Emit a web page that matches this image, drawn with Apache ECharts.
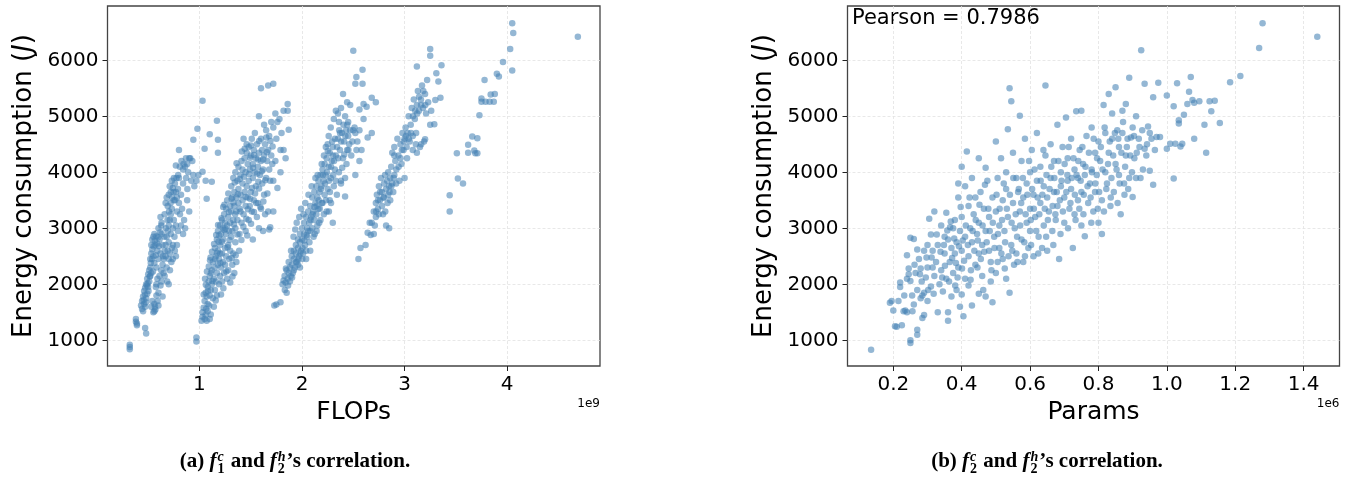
<!DOCTYPE html>
<html>
<head>
<meta charset="utf-8">
<script src="https://cdn.jsdelivr.net/npm/echarts@6/dist/echarts.min.js"></script>
<style>
  html, body { margin: 0; padding: 0; background: #fff; }
  #chart { width: 1351px; height: 478px; }
</style>
</head>
<body>
<div id="chart"></div>
<script>
// left panel: [FLOPs (x1e9), energy (J)], grouped by the visible bands
const flopsBandA = [
  [0.32,840],[0.32,880],[0.32,920],[0.38,1380],[0.38,1330],[0.39,1270],[0.39,1300],[0.47,1220],[0.48,1120],
  [0.43,1620],[0.44,1700],[0.44,1560],[0.45,1520],[0.45,1780],[0.46,1650],[0.46,1880],[0.47,1940],[0.47,1600],
  [0.48,2000],[0.48,1750],[0.49,2100],[0.49,1830],[0.50,2180],[0.50,1950],[0.51,2250],[0.51,2050],[0.52,2300],
  [0.52,2150],[0.53,2200],[0.53,1600],[0.54,1700],[0.55,1500],[0.56,1520],[0.56,1650],[0.57,1550],[0.58,1800],
  [0.58,2000],[0.59,2100],[0.60,1850],[0.60,1620],[0.62,1980],[0.63,2050],[0.64,1780],[0.65,2200],
  [0.52,2450],[0.53,2550],[0.53,2700],[0.54,2620],[0.54,2800],[0.55,2850],[0.55,2500],[0.56,2900],[0.56,2380],
  [0.57,2700],[0.58,2860],[0.58,2300],[0.59,2600],[0.60,3000],[0.60,2450],[0.61,2800],[0.62,3200],[0.62,2550],
  [0.63,3100],[0.63,2900],[0.64,2700],
  [0.64,2350],[0.65,2450],[0.66,2600],[0.66,2150],[0.67,2700],[0.67,2500],[0.68,2850],[0.68,2300],[0.69,2950],
  [0.69,2600],[0.70,3050],[0.70,2750],[0.70,2000],[0.71,3150],[0.71,2550],[0.72,3250],[0.72,2900],[0.73,3350],
  [0.73,2650],[0.74,3000],[0.74,2450],[0.75,3500],[0.75,3150],[0.76,2600],[0.77,2500],[0.78,2700],[0.78,3300],
  [0.79,2950],
  [0.66,3250],[0.67,3450],[0.68,3550],[0.69,3400],[0.70,3600],[0.71,3750],[0.72,3650],[0.73,3850],[0.74,3720],
  [0.75,3900],[0.76,3800],[0.77,3650],[0.78,3550],[0.79,3700],[0.80,3450],[0.80,3900],[0.81,3250],[0.82,3600],
  [0.82,3050],[0.83,3350],[0.84,2900],[0.84,3800],[0.85,3150],[0.86,4100],[0.86,3000],[0.87,3900],[0.88,4150],
  [0.88,3500],[0.89,4000],[0.90,4250],[0.90,3300],[0.91,4250],[0.92,3850],[0.93,4200],[0.94,3950],[0.95,3750],
  [0.80,4400],[0.77,4120],[0.84,4050],
  [0.455,1720],[0.468,1820],[0.478,1680],[0.487,1980],[0.495,2020],[0.503,1880],[0.515,2140],[0.525,2380],
  [0.537,2450],[0.546,2230],[0.553,2680],[0.565,2780],[0.574,2520],[0.586,2730],[0.597,2840],[0.606,2680],
  [0.617,2930],[0.627,3050],[0.658,2850],[0.672,3000],[0.688,3150],[0.703,3300],[0.718,3450],[0.733,3550],
  [0.748,3650],[0.762,3500],[0.776,3900],[0.792,3950],[0.808,4100],[0.824,4200],[0.845,4150],[0.868,4250],
  [0.882,3700],[0.700,2450],[0.685,2050],[0.712,2250],[0.726,2400],[0.741,2700],[0.756,2850],[0.770,3050],
  [0.566,1600],[0.574,1950],[0.592,1700],[0.610,2150],[0.627,2250],[0.645,2500],
  [0.94,4580],[0.98,4780],[1.03,5280],[1.05,4420],[1.03,4010],[1.06,3850],[1.07,3530],[1.10,4680],[1.12,3830],
  [1.17,4920],[1.18,4580],[1.18,4350],[0.97,3850],[0.99,3950]
];
const flopsBandB = [
  [0.97,980],[0.97,1050],[1.02,1350],[1.03,1420],[1.03,1500],[1.04,1580],[1.05,1380],[1.06,1450],[1.07,1350],
  [1.08,1520],[1.10,1380],[1.11,1460],
  [1.05,1700],[1.06,1850],[1.07,1780],[1.08,1950],[1.08,1650],[1.09,2050],[1.10,1800],[1.10,2150],[1.11,1900],
  [1.12,2000],[1.12,2250],[1.13,1750],[1.13,2400],[1.14,2100],[1.14,1600],[1.15,2300],[1.15,1900],[1.16,2500],
  [1.16,2050],[1.17,2200],[1.17,1800],[1.18,2600],[1.18,2350],[1.19,2000],[1.19,2450],[1.20,2150],[1.20,2700],
  [1.21,2300],[1.21,1820],[1.22,2550],[1.22,2050],[1.23,2400],[1.23,2800],[1.24,2200],[1.25,2650],[1.25,2350],
  [1.26,2500],[1.26,2900],[1.27,2100],[1.28,2700],[1.28,2250],[1.29,2450],[1.30,2600],[1.30,2030],[1.31,2850],
  [1.32,2350],[1.33,2550],[1.34,2200],[1.35,2750],[1.36,2400],
  [1.15,2650],[1.17,2800],[1.18,2950],[1.20,3050],[1.21,2900],[1.22,3150],[1.23,3000],[1.24,3250],[1.25,3100],
  [1.26,3350],[1.27,3050],[1.27,3500],[1.28,3200],[1.29,2950],[1.30,3400],[1.30,3100],[1.31,3300],[1.32,3550],
  [1.32,2950],[1.33,3150],[1.34,3400],[1.34,3650],[1.35,3000],[1.36,3300],[1.36,3550],[1.37,3150],[1.38,3450],
  [1.38,3700],[1.39,2900],[1.40,3300],[1.40,3600],[1.41,3100],[1.42,3500],[1.42,3800],[1.43,3250],[1.44,3650],
  [1.45,3400],[1.45,2950],[1.46,3750],[1.47,3550],[1.48,3150],[1.48,3850],[1.49,3400],[1.50,3650],[1.51,3300],
  [1.52,3900],[1.52,2800],[1.53,3500],[1.55,3750],[1.56,3200],[1.57,3450],[1.58,3000],[1.60,3350],[1.62,2950],
  [1.63,3600],[1.64,3250],[1.67,3300],[1.68,2980],
  [1.31,3750],[1.33,3900],[1.35,4000],[1.37,3850],[1.38,4100],[1.40,3950],[1.41,4200],[1.42,4050],[1.44,4250],
  [1.45,4000],[1.46,4350],[1.47,4150],[1.48,4450],[1.49,4050],[1.50,4300],[1.51,4600],[1.52,4150],[1.53,4400],
  [1.54,4000],[1.55,4250],[1.56,4500],[1.57,4100],[1.58,4350],[1.59,3950],[1.60,4200],[1.61,4400],[1.62,4050],
  [1.63,4300],[1.64,4500],[1.65,3900],[1.66,4200],[1.67,4400],[1.68,4050],[1.69,3850],[1.70,4300],[1.71,4150],
  [1.72,3850],[1.74,4200],[1.46,4500],[1.43,4600],[1.54,4700],[1.60,4600],
  [1.073,2230],[1.094,1620],[1.108,2480],[1.127,2060],[1.142,2720],[1.158,1710],[1.171,2560],[1.193,2870],
  [1.204,2380],[1.219,2760],[1.233,1930],[1.241,2970],[1.262,2230],[1.274,2660],[1.293,2790],[1.314,2470],
  [1.322,2140],[1.336,3070],[1.353,2520],[1.371,2890],[1.387,2600],[1.409,2790],[1.428,3030],[1.457,3170],
  [1.466,2870],[1.494,3530],[1.503,3080],[1.531,3290],[1.542,3620],[1.563,3980],[1.581,3710],[1.594,3380],
  [1.612,3800],[1.623,3480],[1.641,3860],[1.662,3620],[1.433,3920],[1.392,3350],[1.374,3610],[1.348,3250],
  [1.331,3460],[1.287,3290],[1.281,3620],[1.252,2990],[1.243,3420],[1.214,3180],[1.186,2760],[1.181,3060],
  [1.163,2880],[1.122,2580],[1.103,2430],[1.091,2320],[1.062,1990],[1.054,2100],[1.041,1820],[1.452,3560],
  [1.473,3340],[1.514,3720],[1.553,3450],[1.574,3830],[1.522,4080],[1.494,4260],[1.441,4420],[1.413,4370],
  [1.362,4160],[1.344,3820],[1.583,4560],[1.622,4230],[1.657,4360],[1.692,4560],[1.713,4460],[1.652,4620],
  [1.502,4480],[1.533,4310],[1.571,4230],[1.607,4020],[1.484,3970],[1.393,3880],[1.312,3530],[1.231,3380],
  [1.202,2550],[1.153,2450],[1.112,2200],[1.083,1880],[1.064,1560],
  [1.58,5000],[1.60,5500],[1.63,4850],[1.65,4750],[1.67,5550],[1.68,4650],[1.70,4900],[1.72,5580],[1.72,4800],
  [1.74,5050],[1.75,4600],[1.76,4900],[1.78,4950],[1.79,4400],[1.80,4700],[1.82,5100],[1.82,4400],[1.84,4250],
  [1.86,5220],[1.86,5100],[1.87,4760],[1.76,3720],[1.72,3300],[1.79,4000],[1.73,1620],[1.75,1640],[1.79,1680],
  [1.69,3020]
];
const flopsBandC = [
  [1.81,2000],[1.82,2070],[1.83,2150],[1.84,2030],[1.85,1850],[1.85,2250],[1.86,2100],[1.87,2400],[1.87,2200],
  [1.88,2300],[1.89,2150],[1.90,2500],[1.90,2350],[1.91,2200],[1.92,2600],[1.92,2450],[1.93,2300],[1.94,2700],
  [1.94,2550],[1.95,2400],[1.96,2800],[1.96,2650],[1.97,2500],[1.98,2900],[1.98,2750],[1.99,2600],[2.00,3000],
  [2.00,2800],[2.01,2550],[2.02,3100],[2.02,2900],[2.03,2700],[2.04,3200],[2.05,3000],[2.05,2850],[2.06,3300],
  [2.07,3100],[2.08,2950],[2.08,3400],[2.09,3200],[2.10,3550],[2.10,3000],[2.11,3300],[2.12,3650],[2.12,3150],
  [2.13,3450],[2.14,3750],[2.14,3250],[2.15,3550],[2.16,3850],[2.16,3350],[2.17,3650],[2.18,3950],[2.18,3150],
  [2.19,3750],[2.20,4050],[2.20,3450],[2.21,3850],[2.22,4150],[2.22,3600],[2.23,3950],[2.24,4250],[2.24,3300],
  [2.25,3700],[2.26,4100],[2.27,4350],[2.27,3500],[2.28,3900],[2.29,4200],[2.30,3100],[2.30,4450],[2.31,3750],
  [2.32,4050],[2.33,4300],[2.34,3600],[2.35,4600],[2.36,4000],[2.37,4400],[2.38,3850],[2.39,4700],[2.40,4250],
  [2.41,4550],[2.42,3900],[2.43,4750],[2.44,4400],[2.45,4650],[2.47,4750],[2.48,4300],[2.50,4750],[2.52,4700],
  [2.54,4550],[2.56,4750],
  [1.893,2600],[1.917,2850],[1.934,2980],[1.948,3100],[1.962,2350],[1.973,3200],[1.991,3350],[2.003,2450],
  [2.014,3250],[2.032,3450],[2.041,2600],[2.063,3600],[2.072,2750],[2.094,3750],[2.113,2850],[2.131,3900],
  [2.152,3950],[2.168,3100],[2.192,4150],[2.214,4300],[2.233,3500],[2.251,4380],[2.272,3650],[2.294,4550],
  [2.312,4200],[2.328,3850],[2.353,4250],[2.371,4700],[2.392,4080],[2.412,4320],[2.434,4150],[2.452,4400],
  [2.491,4550],[2.512,4800],[2.531,4400],[2.203,3950],[2.184,3700],[2.163,3500],[2.142,3400],[2.121,3380],
  [2.103,3250],[2.082,3150],[2.061,2950],[2.043,2880],[2.022,2780],[2.004,2650],[1.983,2550],[1.964,2450],
  [1.942,2400],[1.921,2250],[1.903,2120],[1.882,2050],[1.864,1980],[1.843,2280],[1.832,1900],[2.224,3800],
  [2.243,4000],[2.262,3850],[2.283,4100],[2.304,3950],[2.321,4600],[2.342,4450],[2.363,4750],[2.381,4550],
  [2.404,4850],[2.423,4650],[2.441,4850],[2.262,3300],[2.283,3450],[2.213,3250],[2.193,3450],[2.173,3350],
  [2.142,2950],[2.124,2900],[2.232,4450],[2.301,4300],
  [2.04,2450],[2.08,2600],[1.98,2300],[2.15,3050],[2.25,4500],[2.28,4800],[2.31,4950],[2.33,5100],[2.36,4900],
  [2.38,5150],[2.40,5400],[2.42,5000],[2.44,5250],[2.45,4900],[2.35,5050],[2.26,4650],
  [2.50,6170],[2.59,5830],[2.53,5700],[2.52,5580],[2.59,5580],[2.68,5330],[2.72,5250],[2.60,5220],[2.63,5170],
  [2.56,5120],[2.47,5200],[2.68,4700],[2.64,4620],[2.60,4950],[2.56,4200],[2.46,4500],[2.58,4400],[2.38,3800],
  [2.42,3570],[2.52,3950]
];
const flopsBandD = [
  [2.55,2450],[2.57,2650],[2.62,2700],[2.64,2920],[2.66,3100],[2.67,2880],[2.68,3100],[2.70,2900],[2.70,3300],
  [2.71,3050],[2.72,3450],[2.72,3200],[2.73,3600],[2.74,3350],[2.75,3250],[2.75,3750],[2.76,3500],[2.77,3900],
  [2.78,3400],[2.78,3650],[2.79,3250],[2.80,3800],[2.80,3550],[2.81,3950],[2.82,3700],[2.82,3050],[2.83,3850],
  [2.84,4000],[2.84,3600],[2.85,3750],[2.86,3900],[2.86,3500],[2.87,4100],[2.88,3800],[2.88,4350],[2.89,3650],
  [2.90,3950],[2.90,4450],[2.91,4200],[2.92,4050],[2.93,4600],[2.94,4300],[2.95,3850],[2.96,4500],[2.97,4150],
  [2.98,4700],[2.99,4400],[3.00,4600],[3.00,3900],[3.01,4800],[3.02,4450],[3.03,4700],[3.04,5000],[3.05,4550],
  [3.06,4850],[3.07,5150],[3.08,4650],[3.09,5300],[3.10,4950],[3.11,4500],[3.12,5200],[3.13,5450],[3.14,5100],
  [3.15,4450],[3.16,5300],[3.17,5550],[3.18,5150],[3.19,4550],[3.20,5400],[3.21,5050],[3.22,5650],[3.23,5250],
  [3.25,4850],[3.26,5100],
  [2.793,3550],[2.812,3300],[2.834,3450],[2.853,3650],[2.871,3750],[2.894,3900],[2.918,3800],[2.942,4100],
  [2.961,4250],[2.973,4400],[2.992,4550],[3.013,4650],[3.024,4250],[3.041,4600],[3.063,4700],[3.082,5000],
  [3.104,5100],[3.123,5050],[3.142,5350],[3.161,5200],[3.183,5450],[3.202,5200],[3.113,4700],[3.162,4500],
  [2.762,3650],[2.741,3500],[2.723,3300],
  [3.25,6200],[3.25,6080],[3.36,5910],[3.31,5770],[3.33,5620],[3.12,5890],[3.35,5330],[3.30,5290],[3.29,4860],
  [3.20,4590],[3.12,4350],[3.08,4400],[2.90,4300],[2.85,3000]
];
const flopsBandE = [
  [3.44,3300],[3.44,3590],[3.52,3890],[3.57,3800],[3.51,4340],[3.62,4490],[3.62,4350],[3.66,4640],[3.68,4390],
  [3.69,4340],[3.71,4340],[3.71,4610],[3.73,5020],[3.75,5320],[3.75,5260],[3.79,5260],[3.83,5260],[3.87,5260],
  [3.84,5390],[3.88,5400],[3.78,5650],[3.90,5760],[3.92,5710],[3.96,5970],[4.03,6200],[4.05,6660],[4.06,6490],
  [4.05,5820],[4.69,6420]
];

// right panel: [Params (x1e6), energy (J)]
const paramsPoints = [
  [0.135,830],[0.19,1670],[0.195,1700],[0.20,1530],[0.205,1250],[0.21,1240],[0.215,1700],[0.22,1950],[0.22,2030],
  [0.225,1270],[0.23,1520],[0.235,1530],[0.24,1500],[0.24,2520],[0.245,2280],[0.245,2180],[0.25,2830],[0.25,2060],
  [0.25,1000],[0.25,950],[0.255,1800],[0.26,2810],[0.26,1640],[0.265,2200],[0.27,2620],[0.27,1900],[0.27,1190],
  [0.27,1100],[0.275,2450],[0.28,1750],[0.28,2280],[0.285,1400],[0.285,1800],[0.29,1850],[0.29,2600],[0.29,1450],
  [0.295,2120],[0.30,2700],[0.30,1700],[0.30,2300],
  [0.305,3170],[0.31,2890],[0.31,1960],[0.315,2600],[0.32,3300],[0.32,2150],[0.325,2400],[0.33,1500],[0.33,2700],
  [0.335,2000],[0.34,3050],[0.34,2250],[0.345,1870],[0.35,2850],[0.35,2550],[0.355,3280],[0.355,2100],[0.36,1500],
  [0.36,1350],[0.36,2800],[0.365,2400],[0.37,2650],[0.37,1780],[0.375,3000],[0.375,2200],[0.38,3150],[0.38,2550],
  [0.385,1900],[0.385,2750],[0.39,3800],[0.39,3550],[0.39,2300],[0.395,1600],[0.395,2950],[0.40,4100],[0.40,3200],
  [0.40,2600],[0.40,1820],[0.405,1430],[0.41,3750],[0.41,2850],[0.41,2100],[0.415,4370],[0.42,3400],[0.42,2500],
  [0.42,1980],[0.425,3000],[0.43,3900],[0.43,2750],[0.43,1620],[0.435,3250],[0.44,2350],[0.44,3550],[0.445,2900],
  [0.45,4250],[0.45,3100],[0.45,2550],[0.45,1830],
  [0.455,3650],[0.46,2700],[0.46,2150],[0.465,3350],[0.47,4080],[0.47,2950],[0.47,1780],[0.475,3850],[0.48,2600],
  [0.48,3200],[0.485,2400],[0.49,3550],[0.49,1680],[0.495,2850],[0.50,4550],[0.50,3300],[0.50,2200],[0.505,3900],
  [0.51,2650],[0.51,3050],[0.515,4250],[0.52,3500],[0.52,2450],[0.525,2950],[0.53,4000],[0.53,3700],[0.53,2100],
  [0.535,4770],[0.535,3200],[0.54,5500],[0.54,1850],[0.545,5270],[0.545,2700],[0.55,4350],[0.55,3450],[0.555,3000],
  [0.56,3900],[0.56,2550],[0.565,3650],[0.57,5010],[0.57,3300],[0.575,4200],[0.575,2800],[0.58,3550],[0.58,2400],
  [0.585,4600],[0.59,3100],[0.59,3800],[0.595,2650],[0.60,4000],[0.60,3350],[0.60,2950],
  [0.605,4400],[0.61,3600],[0.61,2500],[0.615,3200],[0.62,4700],[0.62,3850],[0.625,2850],[0.63,4100],[0.63,3450],
  [0.635,2650],[0.64,3750],[0.64,3050],[0.645,5550],[0.645,4300],[0.65,3550],[0.65,2600],[0.655,3300],[0.66,4500],
  [0.66,3900],[0.665,2950],[0.67,4200],[0.67,3650],[0.675,3150],[0.68,4850],[0.68,3400],[0.685,2450],[0.69,4000],
  [0.69,3750],[0.695,4450],[0.70,3550],[0.70,3100],[0.705,4980],[0.71,4250],[0.71,3850],[0.715,3350],[0.72,4600],
  [0.72,3700],[0.725,2650],[0.73,4050],[0.73,3250],[0.735,5090],[0.74,3900],[0.74,3500],[0.745,4400],[0.75,5100],
  [0.75,3650],[0.75,3050],
  [0.755,4150],[0.76,2860],[0.76,3950],[0.765,4650],[0.77,3450],[0.775,3800],[0.78,4800],[0.78,4050],[0.785,3300],
  [0.79,4350],[0.79,3650],[0.795,3950],[0.80,4550],[0.80,3100],[0.805,4200],[0.81,3500],[0.81,2900],[0.815,5200],
  [0.82,4000],[0.82,4700],[0.825,3800],[0.83,5400],[0.83,4350],[0.835,3400],[0.84,5050],[0.84,4600],[0.845,3650],
  [0.85,4150],[0.85,5520],[0.855,4750],[0.86,3950],[0.86,4450],[0.865,3250],[0.87,5100],[0.87,4700],[0.875,3800],
  [0.88,5220],[0.88,4300],[0.885,4600],[0.89,3900],[0.89,5690],[0.895,4620],[0.90,3560],[0.90,4800],[0.905,4250],
  [0.91,5000],[0.91,3900],[0.92,4450],[0.925,6180],[0.93,4050],[0.935,5580],[0.935,4420],[0.94,4300],[0.945,4820],
  [0.95,4700],[0.95,4030],
  [0.312,2480],[0.318,1830],[0.327,2890],[0.338,2580],[0.343,2120],[0.351,2330],[0.358,2960],[0.363,2050],
  [0.368,3120],[0.372,2470],[0.378,2820],[0.383,2380],[0.388,2120],[0.392,2680],[0.397,3380],[0.403,2780],
  [0.407,2420],[0.412,3050],[0.418,2700],[0.423,3550],[0.427,2250],[0.432,2950],[0.437,2600],[0.441,3150],
  [0.447,2780],[0.452,3420],[0.456,2450],[0.461,3050],[0.466,2580],[0.468,3780],[0.473,2750],[0.478,3350],
  [0.482,2950],[0.487,2250],[0.491,3100],[0.496,2650],[0.502,3600],[0.506,2900],[0.511,3350],[0.516,2550],
  [0.518,3150],[0.523,3800],[0.527,2750],[0.532,3350],[0.537,2500],[0.541,3600],[0.546,3100],[0.551,3900],
  [0.553,2350],[0.558,3250],[0.562,2850],[0.567,3700],[0.571,3050],[0.574,3450],[0.579,3900],[0.583,2750],
  [0.587,3250],[0.592,3600],[0.597,4200],[0.602,3150],[0.606,3700],[0.611,3350],[0.613,4050],[0.618,2950],
  [0.622,3550],[0.627,3250],[0.631,3850],[0.636,3600],[0.639,4400],[0.643,3350],[0.648,3950],[0.652,3150],
  [0.657,3700],[0.662,4100],[0.666,3400],[0.671,3900],[0.674,3250],[0.678,3650],[0.683,4200],[0.687,3500],
  [0.692,3850],[0.696,3300],[0.701,4150],[0.706,3650],[0.709,3950],[0.713,4450],[0.718,3450],[0.722,3900],
  [0.727,4250],[0.731,3600],[0.736,3950],[0.741,4200],[0.744,3350],[0.748,3850],[0.753,4450],[0.757,3600],
  [0.762,4100],[0.768,3750],[0.772,4350],[0.777,3550],[0.781,4000],[0.786,4600],[0.791,3800],[0.796,4250],
  [0.802,3650],[0.807,4450],[0.812,4050],[0.818,4800],[0.823,3700],[0.828,4150],[0.833,4550],[0.838,3900],
  [0.843,4300],[0.848,4700],[0.853,4050],[0.858,4600],[0.862,3800],[0.867,4350],[0.872,4900],[0.878,4100],
  [0.883,4450],[0.887,3700],[0.893,4300],[0.898,4000],[0.904,4650],[0.912,4350],[0.918,4600],[0.923,3900],
  [0.928,4750],[0.942,4500],[0.955,4600],[0.240,2100],[0.262,2350],[0.283,2050],[0.297,2480],[0.232,1800],
  [0.256,1520],[0.278,2180],[0.302,1900],[0.315,2300],[0.348,2700],[0.366,3020],[0.381,1980],[0.401,2280],
  [0.426,2080],[0.446,2300],[0.463,1900],[0.485,2050],[0.505,2400],[0.526,2280],[0.548,2600],[0.563,2400],
  [0.585,2500],[0.603,2700],[0.624,2550],[0.647,2850],[0.668,2700],[0.689,2900],[0.711,3000],[0.733,3150],
  [0.756,3250],[0.779,3100],[0.798,3350],[0.816,3300],[0.836,3550],[0.856,3450],[0.876,3600],
  [0.96,5340],[0.96,3780],[0.965,4400],[0.97,4630],[0.975,5600],[0.98,4630],[1.00,5370],[1.00,4420],[1.01,4510],
  [1.02,5180],[1.02,3890],[1.025,4510],[1.03,5590],[1.035,4930],[1.035,4870],[1.04,4460],[1.045,4510],[1.05,5030],
  [1.06,5220],[1.065,5440],[1.07,5700],[1.075,5290],[1.08,4600],[1.08,5240],[1.095,5270],[1.11,4850],[1.115,4350],
  [1.125,5270],[1.13,5090],[1.14,5280],[1.155,4880],[1.185,5610],[1.215,5720],[1.27,6220],[1.28,6660],[1.44,6420]
];

const energyTicks = [1000, 2000, 3000, 4000, 5000, 6000];
const flopsTicks = [1, 2, 3, 4];
const paramsTicks = [0.2, 0.4, 0.6, 0.8, 1.0, 1.2, 1.4];
const pearsonText = 'Pearson = 0.7986';

const sansFont = '"DejaVu Sans", sans-serif';
const serifFont = '"Liberation Serif", "DejaVu Serif", serif';
const dotColor = 'rgba(70,130,180,0.72)';
const frameColor = '#444';

const chart = echarts.init(document.getElementById('chart'), null, { renderer: 'canvas' });

function xAxisFor(idx, min, max, ticks, name, fmt) {
  return {
    type: 'value', gridIndex: idx, min: min, max: max,
    name: name, nameLocation: 'middle', nameGap: 34,
    nameTextStyle: { fontFamily: sansFont, fontSize: 25, color: '#000' },
    axisLine: { show: false },
    axisTick: { show: true, customValues: ticks, length: 5, lineStyle: { color: '#222', width: 1 } },
    axisLabel: { customValues: ticks, margin: 9, fontFamily: sansFont, fontSize: 20, color: '#000', formatter: fmt },
    splitLine: { show: true, lineStyle: { color: '#e2e2e2', type: [3, 2], width: 0.8 } }
  };
}

function yAxisFor(idx) {
  return {
    type: 'value', gridIndex: idx, min: 541, max: 6970,
    name: 'Energy consumption ({j|J})', nameLocation: 'middle', nameGap: 70, nameRotate: 90,
    nameTextStyle: {
      fontFamily: sansFont, fontSize: 26, color: '#000',
      rich: { j: { fontFamily: sansFont, fontSize: 26, fontStyle: 'italic', color: '#000' } }
    },
    axisLine: { show: false },
    axisTick: { show: true, customValues: energyTicks, length: 5, lineStyle: { color: '#222', width: 1 } },
    axisLabel: { customValues: energyTicks, margin: 9, fontFamily: sansFont, fontSize: 20, color: '#000', formatter: v => String(v) },
    splitLine: { show: true, lineStyle: { color: '#e2e2e2', type: [3, 2], width: 0.8 } }
  };
}

// caption with stacked super/subscripts, measured on a scratch canvas
const measureCtx = document.createElement('canvas').getContext('2d');
function textWidth(text, font) {
  measureCtx.font = font;
  return measureCtx.measureText(text).width;
}
function caption(cx, cy, parts) {
  const base = 21, small = 14;
  let w = 0;
  const laid = parts.map(p => {
    if (p.sup !== undefined) {
      const fSup = `italic bold ${small}px ${serifFont}`;
      const fSub = `bold ${small}px ${serifFont}`;
      const pw = Math.max(textWidth(p.sup, fSup), textWidth(p.sub, fSub));
      const r = { x: w + 1, p: p, fSup: fSup, fSub: fSub };
      w += pw + 2;
      return r;
    }
    const font = `${p.it ? 'italic ' : ''}bold ${base}px ${serifFont}`;
    const r = { x: w, p: p, font: font };
    w += textWidth(p.t, font);
    return r;
  });
  const x0 = cx - w / 2;
  const out = [];
  laid.forEach(r => {
    if (r.p.sup !== undefined) {
      out.push({ type: 'text', x: x0 + r.x, y: cy - 5, style: { text: r.p.sup, font: r.fSup, fill: '#000', verticalAlign: 'middle' } });
      out.push({ type: 'text', x: x0 + r.x, y: cy + 7, style: { text: r.p.sub, font: r.fSub, fill: '#000', verticalAlign: 'middle' } });
    } else {
      out.push({ type: 'text', x: x0 + r.x, y: cy, style: { text: r.p.t, font: r.font, fill: '#000', verticalAlign: 'middle' } });
    }
  });
  return out;
}

const scatterStyle = { color: dotColor };

const option = {
  animation: false,
  backgroundColor: '#fff',
  grid: [
    { left: 107.5, right: 751, top: 6, bottom: 112, show: true, borderColor: frameColor, borderWidth: 1.3 },
    { left: 847.5, right: 11.5, top: 6, bottom: 112, show: true, borderColor: frameColor, borderWidth: 1.3 }
  ],
  xAxis: [
    xAxisFor(0, 0.103, 4.906, flopsTicks, 'FLOPs', v => String(v)),
    xAxisFor(1, 0.066, 1.505, paramsTicks, 'Params', v => v.toFixed(1))
  ],
  yAxis: [yAxisFor(0), yAxisFor(1)],
  series: [
    {
      type: 'scatter', xAxisIndex: 0, yAxisIndex: 0, symbolSize: 6.5,
      itemStyle: scatterStyle,
      data: [].concat(flopsBandA, flopsBandB, flopsBandC, flopsBandD, flopsBandE)
    },
    {
      type: 'scatter', xAxisIndex: 1, yAxisIndex: 1, symbolSize: 6.5,
      itemStyle: scatterStyle,
      data: paramsPoints
    }
  ],
  graphic: [
    { type: 'text', x: 600, y: 404, style: { text: '1e9', fontFamily: sansFont, fontSize: 12, fill: '#000', align: 'right', verticalAlign: 'middle' } },
    { type: 'text', x: 1339.5, y: 404, style: { text: '1e6', fontFamily: sansFont, fontSize: 12, fill: '#000', align: 'right', verticalAlign: 'middle' } },
    { type: 'text', x: 852, y: 19, style: { text: pearsonText, fontFamily: sansFont, fontSize: 21, fill: '#000', align: 'left', verticalAlign: 'middle' } }
  ].concat(
    caption(295, 462, [
      { t: '(a) ' }, { t: 'f', it: true }, { sup: 'c', sub: '1' },
      { t: ' and ' }, { t: 'f', it: true }, { sup: 'h', sub: '2' }, { t: '\u2019s correlation.' }
    ]),
    caption(1047, 462, [
      { t: '(b) ' }, { t: 'f', it: true }, { sup: 'c', sub: '2' },
      { t: ' and ' }, { t: 'f', it: true }, { sup: 'h', sub: '2' }, { t: '\u2019s correlation.' }
    ])
  )
};

chart.setOption(option);
window.addEventListener('resize', () => chart.resize());
</script>
</body>
</html>
